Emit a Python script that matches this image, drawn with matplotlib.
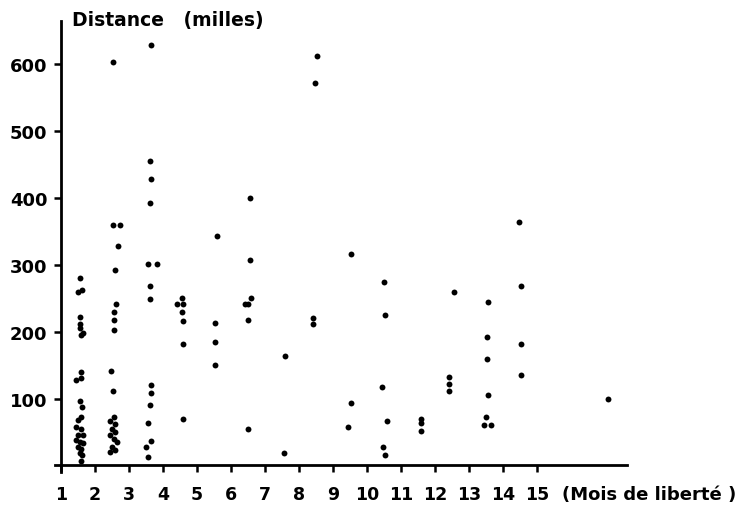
import matplotlib.pyplot as plt

# months at liberty (x) and distance travelled in miles (y), one entry per recapture
months = [
    1.56, 1.50, 1.62, 1.55, 1.57, 1.55, 1.65, 1.60,
    1.45, 1.60, 1.58, 1.55, 1.62, 1.60,
    1.50, 1.45, 1.60, 1.50, 1.65, 1.45, 1.55, 1.65, 1.50, 1.60, 1.55, 1.62, 1.60,
    2.53, 2.53, 2.72, 2.68, 2.58, 2.62, 2.57, 2.55, 2.55,
    2.48, 2.53,
    2.57, 2.45, 2.60, 2.50, 2.60, 2.45, 2.55, 2.65, 2.50, 2.60, 2.45,
    3.65, 3.62, 3.65, 3.62, 3.56, 3.82, 3.62, 3.62,
    3.65, 3.65, 3.62, 3.55, 3.65, 3.50, 3.55,
    4.56, 4.41, 4.59, 4.55, 4.58, 4.58, 4.60,
    5.53, 5.53, 5.53, 5.59,
    6.56, 6.55, 6.42, 6.50, 6.58, 6.50, 6.50,
    7.59, 7.56,
    8.53, 8.47, 8.41, 8.41,
    9.53, 9.53, 9.45,
    10.50, 10.53, 10.45, 10.58, 10.48, 10.53,
    11.59, 11.59, 11.59,
    12.55, 12.42, 12.42, 12.42,
    13.56, 13.53, 13.53, 13.56, 13.50, 13.45, 13.65,
    14.47, 14.53, 14.53, 14.53,
    17.10,
]
distance = [
    281, 260, 262, 222, 211, 205, 198, 195,
    128, 130, 139, 96, 88, 72,
    68, 57, 55, 45, 45, 38, 35, 33, 28, 25, 18, 16, 6,
    603, 359, 359, 329, 292, 241, 229, 218, 202,
    141, 111,
    73, 66, 62, 55, 50, 45, 40, 35, 28, 23, 20,
    629, 455, 428, 392, 301, 301, 268, 249,
    120, 109, 90, 63, 36, 28, 13,
    250, 241, 241, 229, 216, 181, 69,
    213, 184, 150, 344,
    400, 307, 241, 241, 250, 217, 54,
    163, 18,
    612, 573, 220, 211,
    316, 93, 57,
    274, 225, 117, 66, 27, 15,
    70, 63, 52,
    260, 132, 121, 111,
    244, 192, 159, 105, 72, 60, 60,
    364, 268, 181, 135,
    99,
]

month_ticks = list(range(1, 16))
distance_ticks = [100, 200, 300, 400, 500, 600]

plt.rcParams['font.family'] = ['DejaVu Sans']

fig = plt.figure(figsize=(7.47, 5.10), dpi=100)
ax = fig.add_axes([0.0736, 0.0725, 0.7658, 0.8843])

ax.scatter(months, distance, s=18, color='black', linewidths=0, zorder=3)

ax.set_xlim(0.82, 17.65)
ax.set_ylim(-10, 665)

# axes cross at month 1 / zero miles
ax.spines['left'].set_position(('data', 1))
ax.spines['bottom'].set_position(('data', 0))
ax.spines['top'].set_visible(False)
ax.spines['right'].set_visible(False)
for side in ['left', 'bottom']:
    ax.spines[side].set_linewidth(2)

ax.set_xticks(month_ticks)
ax.set_xticklabels([str(m) for m in month_ticks], fontsize=12.5, fontweight='heavy')
ax.set_yticks(distance_ticks)
ax.set_yticklabels([str(d) for d in distance_ticks], fontsize=13, fontweight='heavy')
ax.tick_params(axis='x', direction='out', length=5, width=1.8, pad=9)
ax.tick_params(axis='y', direction='out', length=5, width=1.8, pad=5)

fig.text(0.097, 0.96, 'Distance   (milles)', fontsize=13.5, fontweight='heavy',
         ha='left', va='center')
fig.text(0.752, 0.029, '(Mois de liberté )', fontsize=13, fontweight='heavy',
         ha='left', va='center')

fig.savefig('out.png', dpi=100)
